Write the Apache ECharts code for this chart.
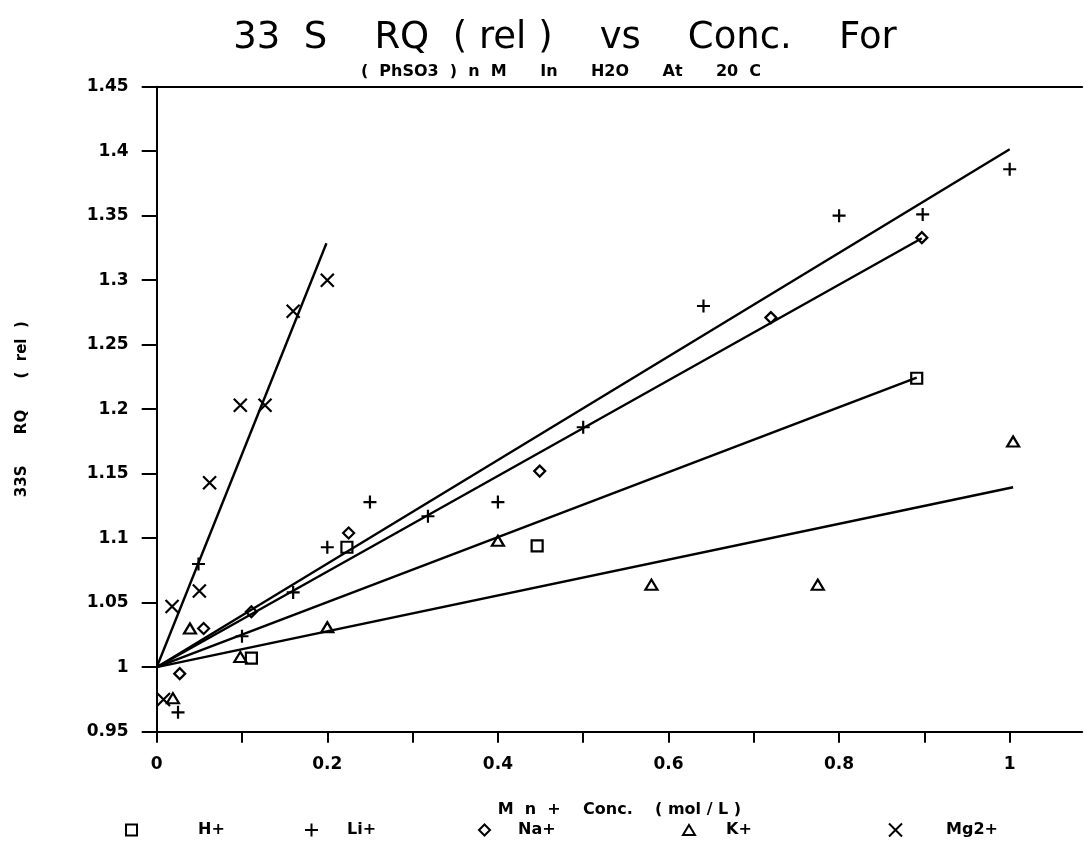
<!DOCTYPE html>
<html><head><meta charset="utf-8">
<script src="https://cdn.jsdelivr.net/npm/echarts/dist/echarts.min.js"></script>
<style>html,body{margin:0;padding:0;background:#fff}#c{width:1085px;height:844px}</style>
</head><body><div id="c"></div>
<script>
// ---- data ----
const seriesNames = ['H+', 'Li+', 'Na+', 'K+', 'Mg2+'];
const hX  = [0.111, 0.223, 0.446, 0.891];
const hY  = [1.007, 1.093, 1.094, 1.224];
const liX = [0.025, 0.049, 0.100, 0.160, 0.200, 0.250, 0.318, 0.400, 0.500, 0.641, 0.800, 0.898, 1.000];
const liY = [0.965, 1.080, 1.024, 1.058, 1.093, 1.128, 1.117, 1.128, 1.186, 1.280, 1.350, 1.351, 1.386];
const naX = [0.027, 0.055, 0.111, 0.225, 0.449, 0.720, 0.897];
const naY = [0.995, 1.030, 1.043, 1.104, 1.152, 1.271, 1.333];
const kX  = [0.019, 0.039, 0.098, 0.200, 0.400, 0.580, 0.775, 1.004];
const kY  = [0.976, 1.030, 1.008, 1.031, 1.098, 1.064, 1.064, 1.175];
const mgX = [0.008, 0.018, 0.050, 0.062, 0.098, 0.127, 0.160, 0.200];
const mgY = [0.975, 1.047, 1.059, 1.143, 1.203, 1.203, 1.276, 1.300];
// fitted lines: start and end points
const fitStartX = [0, 0, 0, 0, 0];
const fitStartY = [1, 1, 1, 1, 1];
const fitEndX   = [0.891, 1.000, 0.897, 1.004, 0.199];
const fitEndY   = [1.2244, 1.4015, 1.3325, 1.1395, 1.3286];
const xTicks = {min: 0, max: 1.085, step: 0.1, labelStep: 0.2};
const yTicks = {min: 0.95, max: 1.45, step: 0.05};

const pts = (xs, ys) => xs.map((x, i) => [x, ys[i]]);
const ptsX = [hX, liX, naX, kX, mgX];
const ptsY = [hY, liY, naY, kY, mgY];

const FONT = '"DejaVu Sans", "Liberation Sans", sans-serif';
const symbols = ['rect', 'path://M0,6L12,6M6,0L6,12', 'diamond', 'triangle', 'path://M0,0L12,12M12,0L0,12'];
const sizes = [[11,11], [13,13], [11,11], [12,10], [13,13]];

const chart = echarts.init(document.getElementById('c'), null, {renderer: 'canvas'});

const series = [];
for (let i = 0; i < 5; i++) {
  series.push({
    name: 'fit' + i, type: 'line', xAxisIndex: 0, yAxisIndex: 0,
    data: [[fitStartX[i], fitStartY[i]], [fitEndX[i], fitEndY[i]]],
    showSymbol: false, symbol: 'none', silent: true,
    lineStyle: {color: '#000', width: 2.4}, z: 2
  });
}
for (let i = 0; i < 5; i++) {
  series.push({
    name: seriesNames[i], type: 'scatter', xAxisIndex: 0, yAxisIndex: 0,
    data: pts(ptsX[i], ptsY[i]),
    symbol: symbols[i], symbolSize: sizes[i],
    itemStyle: {color: 'rgba(255,255,255,0)', borderColor: '#000', borderWidth: 2.2, opacity: 1},
    z: 3
  });
}

// legends: one per item so positions can be matched
const legIconLeft = [125, 304, 478, 682, 888];
const legTextPad  = [56, 24, 23, 26, 39];
const legends = seriesNames.map((n, i) => ({
  data: [n], left: legIconLeft[i], top: 822, padding: 0,
  itemWidth: sizes[i][0], itemHeight: sizes[i][1],
  selectedMode: false,
  textStyle: {fontFamily: FONT, fontSize: 16, fontWeight: 'bold', color: '#000', padding: [0, 0, 0, legTextPad[i]]}
}));

chart.setOption({
  animation: false,
  backgroundColor: '#fff',
  graphic: [
    {type: 'text', x: 565, y: 38, style: {text: '33  S    RQ  ( rel )    vs    Conc.    For', font: '37px ' + FONT, fill: '#000', textAlign: 'center', textVerticalAlign: 'middle'}},
    {type: 'text', x: 561, y: 72, style: {text: '(  PhSO3  )  n  M      In      H2O      At      20  C', font: 'bold 16px ' + FONT, fill: '#000', textAlign: 'center', textVerticalAlign: 'middle'}}
  ],
  legend: legends,
  grid: {left: 156.7, top: 86.7, width: 925.5, height: 645, containLabel: false},
  xAxis: [{
    type: 'value', min: xTicks.min, max: xTicks.max, interval: xTicks.step,
    name: 'M  n  +    Conc.    ( mol / L )', nameLocation: 'middle', nameGap: 70,
    nameTextStyle: {fontFamily: FONT, fontSize: 16, fontWeight: 'bold', color: '#000'},
    axisLine: {show: true, onZero: false, lineStyle: {color: '#000', width: 2}},
    axisTick: {show: true, inside: false, length: 11, lineStyle: {color: '#000', width: 2}},
    axisLabel: {
      margin: 24, fontFamily: FONT, fontSize: 17, fontWeight: 'bold', color: '#000',
      showMaxLabel: false,
      formatter: v => (Math.round(v * 10) % 2 === 0 && v <= 1.0001) ? String(+v.toFixed(1)) : ''
    },
    splitLine: {show: false}
  }, {
    type: 'value', position: 'top', min: xTicks.min, max: xTicks.max,
    axisLine: {show: true, onZero: false, lineStyle: {color: '#000', width: 2}},
    axisTick: {show: false}, axisLabel: {show: false}, splitLine: {show: false}
  }],
  yAxis: [{
    type: 'value', min: yTicks.min, max: yTicks.max, interval: yTicks.step,
    name: '33S      RQ      (  rel  )', nameLocation: 'middle', nameGap: 127, nameRotate: 90,
    nameTextStyle: {fontFamily: FONT, fontSize: 15, fontWeight: 'bold', color: '#000'},
    axisLine: {show: true, onZero: false, lineStyle: {color: '#000', width: 2}},
    axisTick: {show: true, inside: false, length: 15, lineStyle: {color: '#000', width: 2}},
    axisLabel: {margin: 28, fontFamily: FONT, fontSize: 17, fontWeight: 'bold', color: '#000',
      formatter: v => String(+v.toFixed(2))},
    splitLine: {show: false}
  }],
  series: series
});
</script>
</body></html>
